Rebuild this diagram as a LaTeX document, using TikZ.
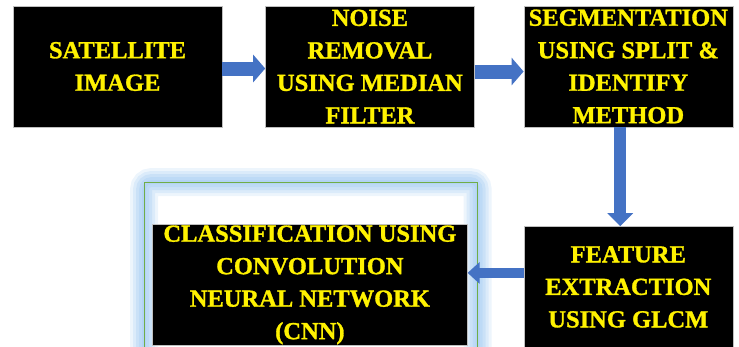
\documentclass[tikz,border=0pt]{standalone}
\usepackage{fontspec}
\setmainfont{Liberation Serif}[BoldFeatures={FakeBold=1.2}]
\usetikzlibrary{arrows.meta, positioning, backgrounds}
\definecolor{flowblue}{HTML}{4472C4}
\definecolor{glowblue}{HTML}{A4CCF2}
\definecolor{framegreen}{HTML}{70AD47}

\begin{document}
\begin{tikzpicture}[x=1pt, y=-1pt,
  node distance=43pt,
  block/.style={rectangle, draw=gray!50, fill=black, line width=0.4pt,
    minimum width=209pt, minimum height=121pt, inner sep=0pt,
    align=center, text=yellow,
    font=\fontsize{24.5}{32.5}\selectfont\bfseries},
  flow/.style={-{Triangle[length=12pt, width=27pt]}, line width=14pt, draw=flowblue}
]
\useasboundingbox (0,0) rectangle (739,346);

\node (sat)   [block] at (117.5,66.5)     {SATELLITE\\IMAGE};
\node (noise) [block, right=of sat]       {NOISE\\REMOVAL\\USING MEDIAN\\FILTER};
\node (seg)   [block, right=49pt of noise] {SEGMENTATION\\USING SPLIT \&\\IDENTIFY\\METHOD};
\node (feat)  [block, below=99pt of seg]  {FEATURE\\EXTRACTION\\USING GLCM};
\node (cls)   [block, minimum width=315pt, anchor=north east]
  at ([xshift=-56pt, yshift=2pt]feat.north west)
  {CLASSIFICATION USING\\CONVOLUTION\\NEURAL NETWORK\\(CNN)};

% soft glow frame behind the classifier
\begin{scope}[on background layer]
  \foreach \w/\o in {28/0.2, 22/0.25, 16/0.3, 10/0.35, 4/0.4}
    \draw[line width=\w pt, draw=glowblue, opacity=\o, rounded corners=7pt]
      ([xshift=-8pt, yshift=42pt]cls.north west) rectangle
      ([xshift=10pt, yshift=-20pt]cls.south east);
  \draw[framegreen, line width=0.7pt]
    ([xshift=-8pt, yshift=42pt]cls.north west) rectangle
    ([xshift=10pt, yshift=-20pt]cls.south east);
\end{scope}

\draw[flow] ([yshift=-2pt]sat.east)   -- ([yshift=-2pt]noise.west);
\draw[flow] ([yshift=-5pt]noise.east) -- ([yshift=-5pt]seg.west);
\draw[flow, line width=12pt, -{Triangle[length=13pt, width=25pt]}]
  ([xshift=-8pt]seg.south) -- ([xshift=-8pt]feat.north);
\draw[flow, line width=10pt, -{Triangle[length=12pt, width=21pt]}]
  ([yshift=14pt]feat.west) -- ([yshift=12pt]cls.east);

\end{tikzpicture}
\end{document}
